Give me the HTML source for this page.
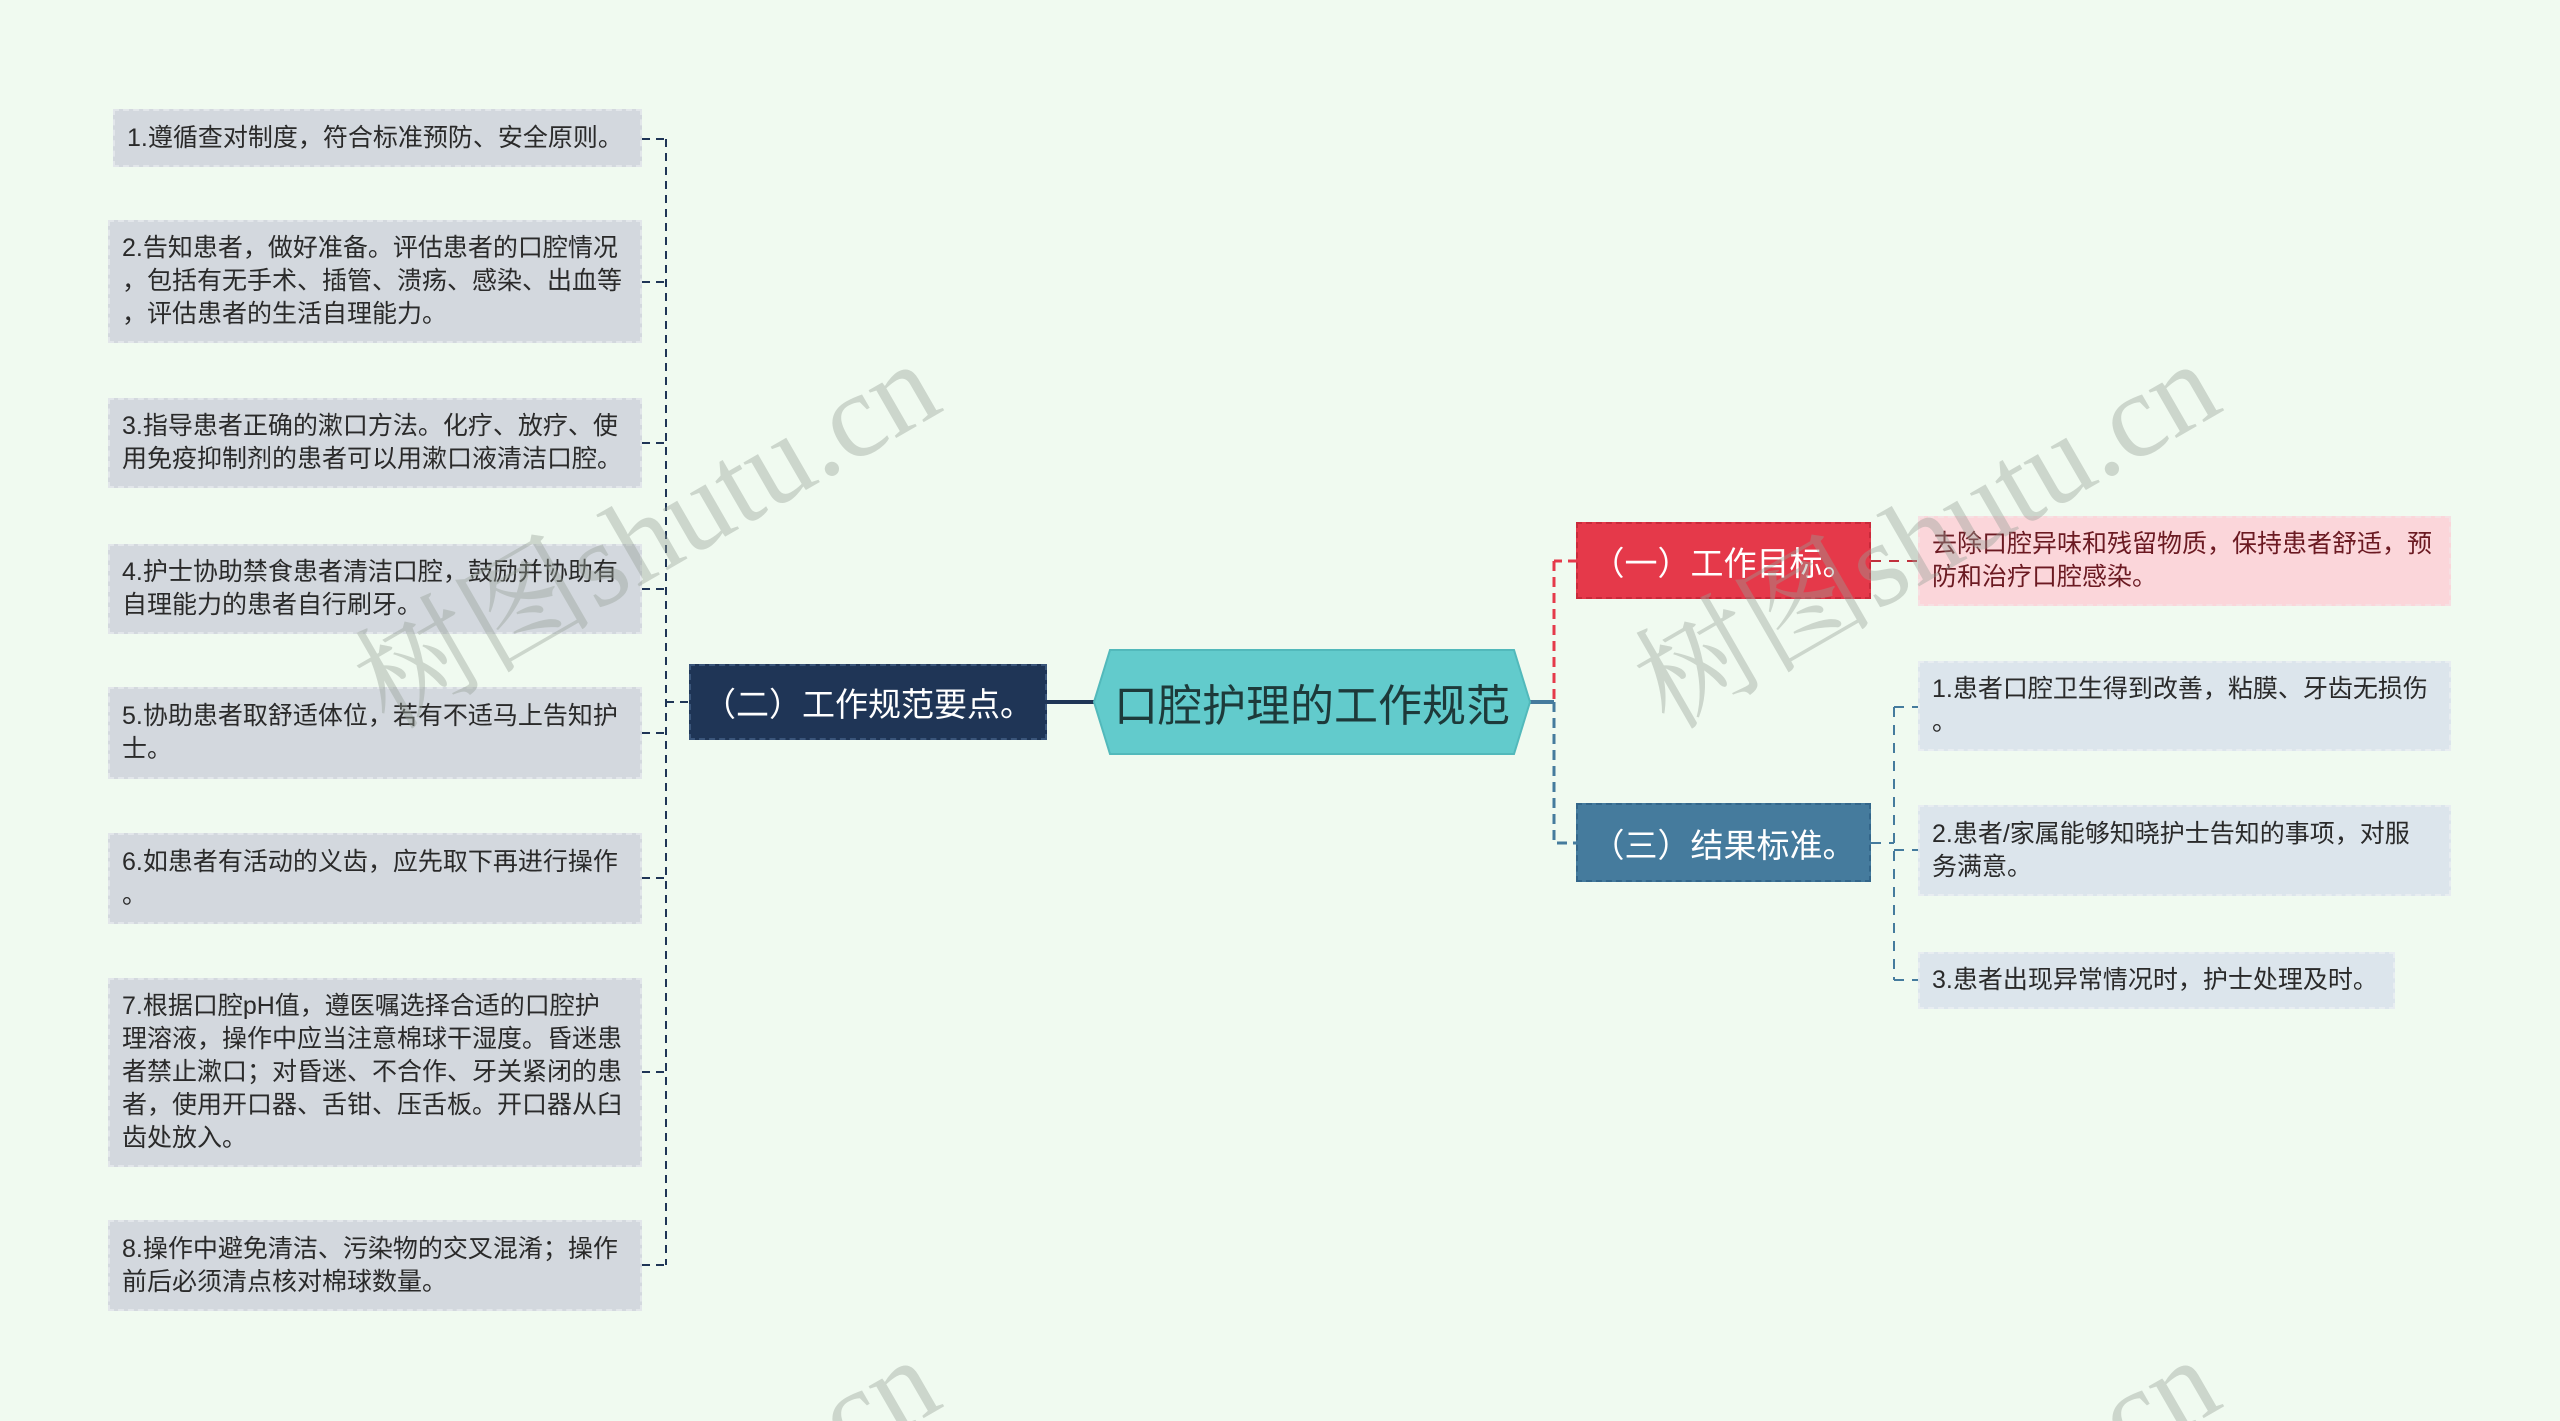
<!DOCTYPE html>
<html style="width:2560px;height:1421px;overflow:hidden"><head><meta charset="utf-8"><style>
body{margin:0;width:2560px;height:1421px;background:#f0faf0;position:relative;overflow:hidden;font-family:"Liberation Sans","Noto Sans CJK SC",sans-serif;}
.b{position:absolute;box-sizing:border-box;}
.l,.r{font-size:25px;line-height:33px;padding:0 12px;display:flex;align-items:center;line-break:anywhere;word-break:break-all;color:#2a2a2a;}
.l{background:#d3d8de;border:2px dashed #e2e6ea;}
.r{background:#dce5ec;border:2px dashed #e8edf1;}
.n{color:#fff;font-size:33px;display:flex;align-items:center;justify-content:center;}
#wmc{position:absolute;left:0;top:0;width:2560px;height:1421px;overflow:hidden;}
.wm{position:absolute;font-family:"Liberation Serif","Noto Serif CJK SC",serif;font-size:120px;color:rgba(150,160,150,0.4);transform:rotate(-30deg);white-space:nowrap;}
</style></head><body>
<svg width="2560" height="1421" style="position:absolute;left:0;top:0">
<g stroke="#1f3556" stroke-width="2" stroke-dasharray="8,6" fill="none">
<path d="M666 139V1265"/>
<path d="M642 139H666M642 282H666M642 443H666M642 589H666M642 733H666M642 878H666M642 1072H666M642 1265H666"/>
<path d="M666 702H689"/>
</g>
<path d="M1047 702H1094" stroke="#1f3556" stroke-width="4"/>
<path d="M1530 702H1554" stroke="#457b9d" stroke-width="4"/>
<path d="M1554 561V702" stroke="#e5394a" stroke-width="3" stroke-dasharray="10,6"/>
<path d="M1554 561H1576" stroke="#e5394a" stroke-width="3" stroke-dasharray="8,6"/>
<path d="M1554 702V843H1576" stroke="#457b9d" stroke-width="3" stroke-dasharray="10,6" fill="none"/>
<path d="M1871 561H1918" stroke="#c0303c" stroke-width="2" stroke-dasharray="10,8"/>
<g stroke="#457b9d" stroke-width="2" stroke-dasharray="10,8" fill="none">
<path d="M1871 843H1894M1894 707V980M1894 707H1918M1894 850H1918M1894 980H1918"/>
</g>
<polygon points="1110,650 1514,650 1530,702 1514,754 1110,754 1094,702" fill="#62cbcc" stroke="#52b9bb" stroke-width="2"/>
</svg>
<div class="b l" style="left:113px;top:109px;width:529px;height:58px">1.遵循查对制度，符合标准预防、安全原则。</div>
<div class="b l" style="left:108px;top:220px;width:534px;height:123px">2.告知患者，做好准备。评估患者的口腔情况，包括有无手术、插管、溃疡、感染、出血等，评估患者的生活自理能力。</div>
<div class="b l" style="left:108px;top:398px;width:534px;height:90px">3.指导患者正确的漱口方法。化疗、放疗、使用免疫抑制剂的患者可以用漱口液清洁口腔。</div>
<div class="b l" style="left:108px;top:544px;width:534px;height:90px">4.护士协助禁食患者清洁口腔，鼓励并协助有自理能力的患者自行刷牙。</div>
<div class="b l" style="left:108px;top:687px;width:534px;height:92px">5.协助患者取舒适体位，若有不适马上告知护士。</div>
<div class="b l" style="left:108px;top:833px;width:534px;height:91px">6.如患者有活动的义齿，应先取下再进行操作。</div>
<div class="b l" style="left:108px;top:978px;width:534px;height:189px"><div>7.根据口腔pH值，遵医嘱选择合适的口腔护<br>理溶液，操作中应当注意棉球干湿度。昏迷患者禁止漱口；对昏迷、不合作、牙关紧闭的患者，使用开口器、舌钳、压舌板。开口器从臼齿处放入。</div></div>
<div class="b l" style="left:108px;top:1220px;width:534px;height:91px">8.操作中避免清洁、污染物的交叉混淆；操作前后必须清点核对棉球数量。</div>
<div class="b n" style="left:689px;top:664px;width:358px;height:76px;background:#1f3556;border:2px dashed #3a557a">（二）工作规范要点。</div>
<div class="b" style="left:1094px;top:650px;width:436px;height:104px;display:flex;align-items:center;justify-content:center;font-size:44px;color:#1d3a3a">口腔护理的工作规范</div>
<div class="b n" style="left:1576px;top:522px;width:295px;height:77px;background:#e5394a;border:2px dashed #c92a3a">（一）工作目标。</div>
<div class="b n" style="left:1576px;top:803px;width:295px;height:79px;background:#457b9d;border:2px dashed #33668a">（三）结果标准。</div>
<div class="b r" style="left:1918px;top:516px;width:533px;height:90px;background:#fbd6da;color:#6b1a22;border-color:#f6e0e3">去除口腔异味和残留物质，保持患者舒适，预防和治疗口腔感染。</div>
<div class="b r" style="left:1918px;top:661px;width:533px;height:90px">1.患者口腔卫生得到改善，粘膜、牙齿无损伤。</div>
<div class="b r" style="left:1918px;top:805px;width:533px;height:91px;padding-right:26px">2.患者/家属能够知晓护士告知的事项，对服务满意。</div>
<div class="b r" style="left:1918px;top:952px;width:477px;height:57px">3.患者出现异常情况时，护士处理及时。</div>
<div id="wmc">
<div class="wm" style="left:320px;top:440px">树图shutu.cn</div>
<div class="wm" style="left:1600px;top:440px">树图shutu.cn</div>
<div class="wm" style="left:320px;top:1436px">树图shutu.cn</div>
<div class="wm" style="left:1600px;top:1436px">树图shutu.cn</div>
</div>
</body></html>
